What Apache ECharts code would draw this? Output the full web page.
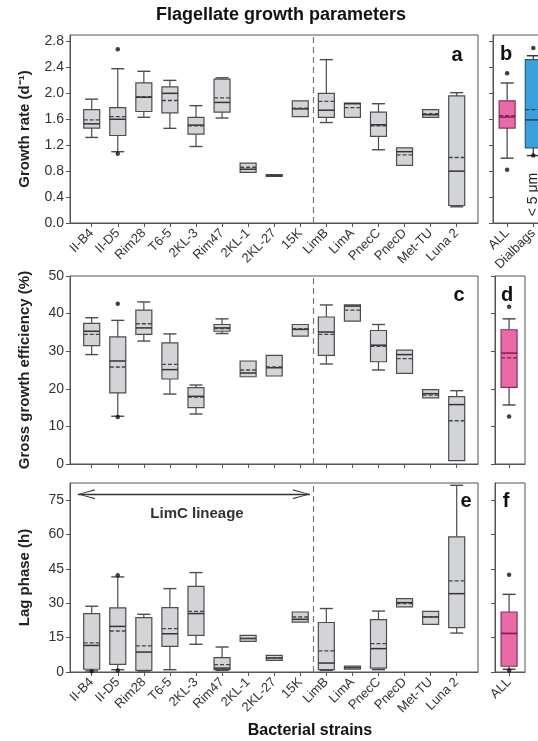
<!DOCTYPE html>
<html><head><meta charset="utf-8">
<script src="https://cdn.jsdelivr.net/npm/echarts@6/dist/echarts.min.js"></script>
<style>html,body{margin:0;padding:0;background:#fff;overflow:hidden}#c{width:570px;height:741px}</style>
</head><body><div id="c"></div>
<script>
// ---------------- DATA ----------------
const strains = ['II-B4','II-D5','Rim28','T6-5','2KL-3','Rim47','2KL-1','2KL-27','15K','LimB','LimA','PnecC','PnecD','Met-TU','Luna 2'];
const poolLabels = ['ALL','Dialbags'];
// each row: [min, q1, median, q3, max, mean]
const growthBox = [
  [1.32,1.465,1.53,1.75,1.91,1.59],
  [1.10,1.35,1.60,1.78,2.38,1.64],
  [1.63,1.72,1.94,2.16,2.34,1.95],
  [1.46,1.70,2.00,2.10,2.20,1.89],
  [1.18,1.37,1.51,1.63,1.81,1.50],
  [1.62,1.71,1.86,2.22,2.24,1.93],
  [0.78,0.78,0.83,0.925,0.925,0.86],
  [0.72,0.72,0.73,0.745,0.745,0.735],
  [1.64,1.64,1.76,1.885,1.885,1.77],
  [1.55,1.63,1.74,2.00,2.52,1.875],
  [1.63,1.63,1.84,1.85,1.85,1.78],
  [1.13,1.335,1.515,1.71,1.84,1.50],
  [0.89,0.89,1.10,1.16,1.16,1.05],
  [1.63,1.63,1.67,1.75,1.75,1.685],
  [0.25,0.27,0.80,1.96,2.01,1.01]
];
const growthOut = [[1,2.68],[1,1.07]];
const growthPoolBox = [
  [1.00,1.465,1.635,1.885,2.16,1.655],
  [1.04,1.16,1.59,2.52,2.58,1.75]
];
const growthPoolOut = [[0,2.31],[0,0.82],[1,2.70],[1,1.04]];

const ggeBox = [
  [29.1,31.5,35.3,37.4,38.9,34.5],
  [12.7,18.9,27.4,33.8,38.2,25.8],
  [32.7,34.5,36.2,40.9,43.1,37.3],
  [18.6,22.6,25.1,32.2,34.6,26.5],
  [13.3,15.0,18.0,20.3,21.0,17.8],
  [34.7,35.3,36.2,37.1,38.6,36.0],
  [23.2,23.2,24.2,27.4,27.4,25.0],
  [23.4,23.4,25.6,28.9,28.9,25.8],
  [34.0,34.0,35.8,37.1,37.1,36.0],
  [26.6,28.9,35.1,39.1,42.3,34.5],
  [38.0,38.0,42.0,42.3,42.3,40.9],
  [25.0,27.2,31.6,35.5,37.1,31.3],
  [24.1,24.1,29.1,30.3,30.3,28.0],
  [17.6,17.6,18.7,19.8,19.8,18.3],
  [0.9,0.9,15.8,17.9,19.5,11.5]
];
const ggeOut = [[1,42.6],[1,12.5]];
const ggePoolBox = [[15.7,20.4,29.5,35.7,38.6,28.2]];
const ggePoolOut = [[0,41.8],[0,12.6]];

const lagBox = [
  [0.5,1.2,11.6,25.5,28.7,12.7],
  [1.0,3.3,19.9,28.0,41.5,17.9],
  [0.4,0.7,8.7,23.7,25.2,11.4],
  [1.0,11.2,16.7,28.1,36.4,18.9],
  [12.1,16.0,25.5,37.4,43.4,26.5],
  [0.7,1.0,1.7,6.3,10.9,3.2],
  [13.4,13.4,14.6,16.0,16.0,14.7],
  [5.1,5.1,6.1,7.3,7.3,6.2],
  [21.8,21.8,23.0,26.2,26.2,24.0],
  [0.7,1.0,3.9,21.6,27.7,9.2],
  [1.2,1.2,1.9,2.6,2.6,1.9],
  [1.0,1.7,10.2,22.9,26.6,12.4],
  [28.4,28.4,30.3,32.0,32.0,29.9],
  [20.8,20.8,24.0,26.5,26.5,24.2],
  [17.0,19.4,34.2,59.0,81.5,39.8]
];
const lagOut = [[0,0.3],[1,42.2],[1,0.7]];
const lagPoolBox = [[1.2,2.5,16.8,26.2,33.9,16.9]];
const lagPoolOut = [[0,42.5],[0,0.7]];

const growthTicks = [0,0.4,0.8,1.2,1.6,2.0,2.4,2.8];
const ggeTicks = [0,10,20,30,40,50];
const lagTicks = [0,15,30,45,60,75];

// ---------------- STYLE ----------------
const FONT = 'Liberation Sans, Arial, sans-serif';
const GRAY = {fill:'#d2d4d7', stroke:'#4d4d4d', med:'#333', mean:'#444', whisk:'#4d4d4d'};
const PINK = {fill:'#e96aa7', stroke:'#8f2f60', med:'#7d2350', mean:'#7d2350', whisk:'#444'};
const BLUE = {fill:'#3aa0db', stroke:'#275a80', med:'#1d4466', mean:'#1d4466', whisk:'#333'};
// open chevron whose apex sits at the symbol centre (tiny dot balances the bounding box)
const ARROW = 'path://M5,0 L10,18 L8.8,18 L5,2.6 L1.2,18 L0,18 Z M5,-18 L5.02,-18 L5,-17.98 Z';

function renderer(palette){
  return function(params, api){
    const x = api.value(0);
    const mn=api.value(1), q1=api.value(2), md=api.value(3), q3=api.value(4), mx=api.value(5), mean=api.value(6);
    const st = palette[params.dataIndex % palette.length];
    const cx = api.coord([x, md])[0];
    const Y = v => api.coord([x, v])[1];
    const hw = 8, cw = 6.5;
    const ch = [];
    const ln = (x1,y1,x2,y2,col,w,dash) => ch.push({type:'line', shape:{x1,y1,x2,y2}, style:{stroke:col, lineWidth:w, lineDash:dash||null}});
    if (mx > q3) { ln(cx,Y(mx),cx,Y(q3),st.whisk,1.2); ln(cx-cw,Y(mx),cx+cw,Y(mx),st.whisk,1.4); }
    if (mn < q1) { ln(cx,Y(q1),cx,Y(mn),st.whisk,1.2); ln(cx-cw,Y(mn),cx+cw,Y(mn),st.whisk,1.4); }
    ch.push({type:'rect', shape:{x:cx-hw, y:Y(q3), width:2*hw, height:Math.max(1,Y(q1)-Y(q3))}, style:{fill:st.fill, stroke:st.stroke, lineWidth:1.2}});
    ln(cx-hw,Y(md),cx+hw,Y(md),st.med,1.5);
    ln(cx-hw,Y(mean),cx+hw,Y(mean),st.mean,1.3,[4,2]);
    return {type:'group', children:ch};
  };
}

function xAxisCfg(gi, names, min, max, showLabels){
  const vals = names.map((_,i)=>i);
  return {type:'value', gridIndex:gi, min, max,
    axisLine:{show:true, onZero:false, lineStyle:{color:'#555', width:1}},
    axisTick:{show:true, customValues:vals, length:4, lineStyle:{color:'#555'}},
    axisLabel:{show:showLabels, customValues:vals, rotate:45, margin:8, fontSize:13, color:'#333', fontFamily:FONT,
      formatter:v=>names[Math.round(v)]},
    splitLine:{show:false}};
}
function yAxisCfg(gi, min, max, ticks, showLabels, name, dec){
  return {type:'value', gridIndex:gi, min, max,
    name: name||'', nameLocation:'middle', nameRotate:90, nameGap:38,
    nameTextStyle:{fontSize:15, fontWeight:'bold', color:'#222', fontFamily:FONT},
    axisLine:{show:true, onZero:false, lineStyle:{color:'#555', width:1}},
    axisTick:{show:true, customValues:ticks, length:4, lineStyle:{color:'#555'}},
    axisLabel:{show:showLabels, customValues:ticks, fontSize:14, color:'#333', fontFamily:FONT, margin:6,
      formatter:v=>dec?v.toFixed(dec):String(v)},
    splitLine:{show:false}};
}

const MAIN_MIN = -0.832, MAIN_MAX = 14.817;
const gridBase = {show:true, borderColor:'#555', borderWidth:1, containLabel:false};
const grids = [
  Object.assign({left:70, top:35, width:408, height:188}, gridBase),
  Object.assign({left:493, top:35, width:56, height:188}, gridBase),
  Object.assign({left:70, top:276, width:408, height:188}, gridBase),
  Object.assign({left:495, top:276, width:30, height:188}, gridBase),
  Object.assign({left:70, top:483, width:408, height:189}, gridBase),
  Object.assign({left:495, top:483, width:30, height:189}, gridBase)
];

const xAxes = [
  xAxisCfg(0, strains, MAIN_MIN, MAIN_MAX, true),
  xAxisCfg(1, poolLabels, -0.54, 1.6, true),
  xAxisCfg(2, strains, MAIN_MIN, MAIN_MAX, false),
  xAxisCfg(3, ['ALL'], -0.54, 0.61, false),
  xAxisCfg(4, strains, MAIN_MIN, MAIN_MAX, true),
  xAxisCfg(5, ['ALL'], -0.54, 0.61, true)
];
const yAxes = [
  yAxisCfg(0, 0, 2.9, growthTicks, true, 'Growth rate (d\u207B\u00B9)', 1),
  yAxisCfg(1, 0, 2.9, growthTicks, false),
  yAxisCfg(2, 0, 50, ggeTicks, true, 'Gross growth efficiency (%)', 0),
  yAxisCfg(3, 0, 50, ggeTicks, false),
  yAxisCfg(4, 0, 82.5, lagTicks, true, 'Lag phase (h)', 0),
  yAxisCfg(5, 0, 82.5, lagTicks, false)
];

const divider = {silent:true, symbol:'none', label:{show:false},
  lineStyle:{type:[6,4], color:'#777', width:1.2}, data:[{xAxis:8.5}]};

function boxSeries(gi, rows, palette, extra){
  return Object.assign({type:'custom', xAxisIndex:gi, yAxisIndex:gi,
    renderItem:renderer(palette), encode:{x:0, y:[1,2,3,4,5,6]},
    data: rows.map((r,i)=>[i].concat(r)), z:3}, extra||{});
}
function outSeries(gi, pts, extra){
  return Object.assign({type:'scatter', xAxisIndex:gi, yAxisIndex:gi, data:pts,
    symbolSize:4.5, itemStyle:{color:'#111'}, z:5, silent:true}, extra||{});
}

const series = [
  boxSeries(0, growthBox, [GRAY], {markLine:divider}),
  outSeries(0, growthOut),
  boxSeries(1, growthPoolBox, [PINK, BLUE]),
  outSeries(1, growthPoolOut, {markPoint:{symbol:'rect', symbolSize:1, itemStyle:{color:'rgba(0,0,0,0)'},
    label:{show:true, position:'inside', rotate:90, formatter:'< 5 \u03BCm', fontSize:14, color:'#222', fontFamily:FONT},
    data:[{coord:[1,0.44]}]}}),
  boxSeries(2, ggeBox, [GRAY], {markLine:divider}),
  outSeries(2, ggeOut),
  boxSeries(3, ggePoolBox, [PINK]),
  outSeries(3, ggePoolOut),
  boxSeries(4, lagBox, [GRAY], {markLine:divider}),
  outSeries(4, lagOut, {
    markLine:{silent:true, symbol:[ARROW, ARROW], symbolSize:[10,34], label:{show:false},
      lineStyle:{type:'solid', color:'#333', width:1.3},
      data:[[{coord:[-0.53,77.6]},{coord:[8.37,77.6]}]]},
    markPoint:{symbol:'rect', symbolSize:1, itemStyle:{color:'rgba(0,0,0,0)'},
      label:{show:true, position:'inside', formatter:'LimC lineage', fontSize:15, fontWeight:'bold', color:'#333', fontFamily:FONT},
      data:[{coord:[4.04,69.2]}]}
  }),
  boxSeries(5, lagPoolBox, [PINK]),
  outSeries(5, lagPoolOut)
];

function txt(t, x, y, size){
  return {type:'text', x, y, style:{text:t, font:'bold '+size+'px '+FONT, fill:'#111', align:'center', verticalAlign:'middle'}, z:10};
}
const graphic = [
  txt('Flagellate growth parameters', 281, 15, 18),
  txt('Bacterial strains', 310, 731, 16),
  txt('a', 457, 55, 20), txt('b', 506, 54, 20),
  txt('c', 459, 295, 20), txt('d', 507, 295, 20),
  txt('e', 466, 501, 20), txt('f', 506, 501, 20)
];

const chart = echarts.init(document.getElementById('c'), null, {renderer:'canvas'});
chart.setOption({
  animation:false, backgroundColor:'#fff',
  textStyle:{fontFamily:FONT},
  grid:grids, xAxis:xAxes, yAxis:yAxes, series, graphic
});
</script></body></html>
